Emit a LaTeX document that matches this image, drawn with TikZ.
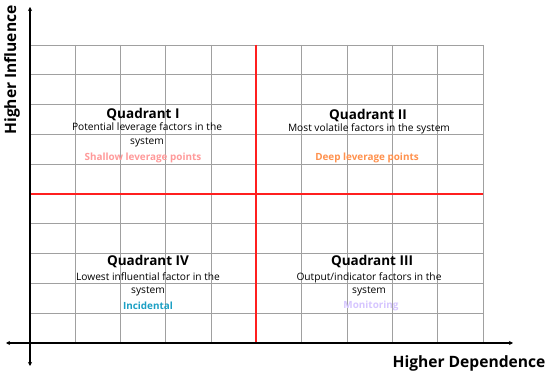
\documentclass[tikz,border=0pt]{standalone}
\usepackage{fontspec}
\setmainfont{Open Sans}
\usetikzlibrary{arrows.meta}
\definecolor{gridgray}{HTML}{A0A0A0}
\definecolor{qred}{HTML}{FF1F1F}
\definecolor{cpink}{HTML}{FF9A9A}
\definecolor{corange}{HTML}{FF914D}
\definecolor{cteal}{HTML}{1CA0C4}
\definecolor{clav}{HTML}{D6C6FF}
\tikzset{
  gridline/.style={gridgray, line width=0.9pt},
  axisline/.style={black, line width=1.4pt, {Stealth[length=4pt,width=4pt]}-{Stealth[length=4pt,width=4pt]}},
  redline/.style={qred, line width=1.5pt},
  qtitle/.style={font=\fontsize{13.5}{15}\selectfont\bfseries, inner sep=0pt},
  qbody/.style={font=\fontsize{10.2}{13.5}\selectfont, align=center, inner sep=0pt},
  qtag/.style={font=\fontsize{9.9}{11}\selectfont\bfseries, inner sep=0pt},
  axislabel/.style={font=\fontsize{15.6}{17}\selectfont\bfseries, inner sep=0pt}
}
\begin{document}
\begin{tikzpicture}[x=1pt,y=-1pt]
\useasboundingbox[fill=white] (0,0) rectangle (550,377);
% grid
\foreach \i in {1,...,9} {
  \draw[gridline] ({30+45.3*\i},45) -- ({30+45.3*\i},343);
  \draw[gridline] (30,{45+29.8*\i}) -- (483,{45+29.8*\i});
}
\draw[gridline] (30,45) -- (483,45);
\draw[gridline] (483,45) -- (483,343);
% red quadrant lines
\coordinate (rt) at (256,45);
\coordinate (rb) at (256,343);
\coordinate (rl) at (30,194);
\coordinate (rr) at (483,194);
\draw[redline] (rt) -- (rb);
\draw[redline] (rl) -- (rr);
% axes
\coordinate (ytop) at (30,7);
\coordinate (ybot) at (30,366);
\coordinate (xleft) at (6,343);
\coordinate (xright) at (513,343);
\draw[axisline] (ybot) -- (ytop);
\draw[axisline] (xleft) -- (xright);
% axis labels
\node[axislabel, rotate=90] (ylab) at (12,70) {Higher Influence};
\node[axislabel] (xlab) at (469,363) {Higher Dependence};
% Quadrant I
\node[qtitle] (q1) at (143,115) {Quadrant I};
\node[qbody] (q1b) at (147,135) {Potential leverage factors in the\\system};
\node[qtag, text=cpink] (q1t) at (143,158) {Shallow leverage points};
% Quadrant II
\node[qtitle] (q2) at (368,116) {Quadrant II};
\node[qbody] (q2b) at (369,129) {Most volatile factors in the system};
\node[qtag, text=corange] (q2t) at (367,158) {Deep leverage points};
% Quadrant IV
\node[qtitle] (q4) at (148,262) {Quadrant IV};
\node[qbody] (q4b) at (148,284.5) {Lowest influential factor in the\\system};
\node[qtag, text=cteal] (q4t) at (148,306) {Incidental};
% Quadrant III
\node[qtitle] (q3) at (372,262) {Quadrant III};
\node[qbody] (q3b) at (369,284.5) {Output/indicator factors in the\\system};
\node[qtag, text=clav] (q3t) at (371,306) {Monitoring};
\end{tikzpicture}
\end{document}
